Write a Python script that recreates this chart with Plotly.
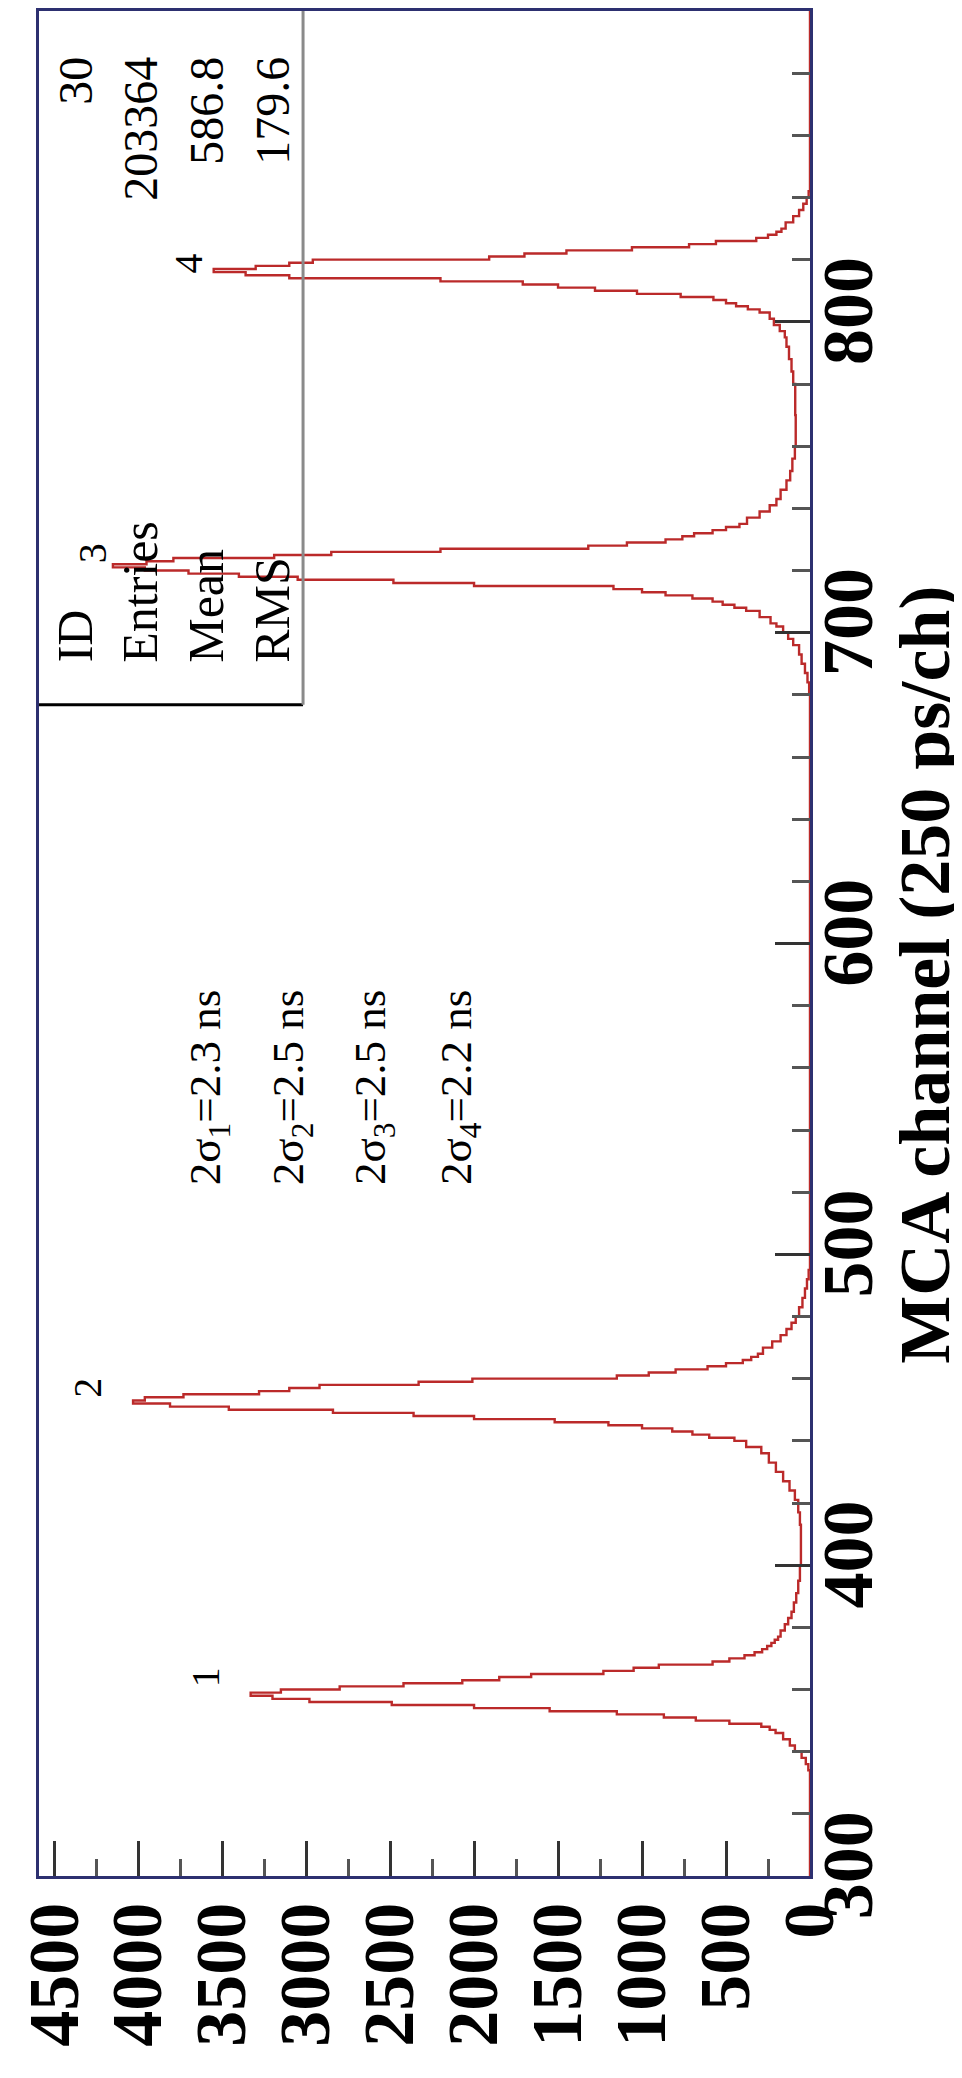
import plotly.graph_objects as go

# ---- data (histogram: bin lower edge in MCA channel, counts) ----
bin_edges = [300, 334, 336, 338, 340, 342, 344, 346, 347, 348, 349, 350, 351, 352, 353, 354,
             355, 356, 357, 358, 359, 360, 361, 362, 363, 364, 365, 366, 367, 368, 369, 370,
             371, 372, 373, 374, 375, 376, 377, 379, 381, 383, 385, 388, 391, 395, 400, 408,
             413, 417, 421, 424, 427, 430, 433, 436, 438, 440, 441, 442, 443, 444, 445, 446,
             447, 448, 449, 450, 451, 452, 453, 454, 455, 456, 457, 458, 459, 460, 461, 462,
             463, 464, 465, 466, 467, 468, 470, 472, 474, 476, 478, 480, 483, 486, 489, 492,
             495, 680, 684, 687, 690, 693, 696, 698, 700, 702, 703, 705, 707, 708, 709, 710,
             711, 712, 713, 714, 715, 716, 717, 718, 719, 720, 721, 722, 723, 724, 725, 726,
             727, 728, 729, 730, 731, 732, 733, 734, 735, 737, 739, 741, 743, 746, 749, 752,
             756, 760, 770, 780, 784, 788, 792, 795, 797, 799, 801, 803, 804, 805, 806, 807,
             808, 809, 810, 811, 812, 813, 814, 815, 816, 817, 818, 819, 820, 821, 822, 823,
             824, 825, 826, 827, 828, 829, 830, 832, 834, 836, 838, 840, 842, 900]
bin_counts = [0, 10, 25, 50, 90, 120, 160, 205, 240, 290, 480, 680, 870, 1150, 1550, 2000,
              2490, 2980, 3200, 3330, 3150, 2800, 2420, 2070, 1850, 1660, 1230, 1050, 900, 580, 480, 390,
              330, 285, 255, 230, 210, 190, 175, 150, 130, 110, 96, 82, 70, 60, 54, 54,
              60, 70, 90, 122, 160, 203, 245, 290, 380, 450, 600, 700, 820, 1000, 1200, 1520,
              2000, 2360, 2840, 3460, 3810, 4030, 3960, 3730, 3280, 3100, 2920, 2330, 2010, 1150, 960, 800,
              610, 500, 400, 350, 310, 280, 225, 175, 140, 110, 85, 65, 45, 30, 18, 8,
              0, 5, 15, 30, 50, 65, 100, 130, 160, 200, 235, 300, 380, 450, 520, 580,
              700, 860, 1000, 1170, 2000, 2480, 3050, 3400, 3700, 3960, 4150, 3950, 3790, 3190, 2850, 2200,
              1320, 1090, 860, 760, 690, 580, 500, 420, 375, 300, 240, 200, 175, 140, 118, 105,
              90, 85, 88, 100, 110, 125, 140, 150, 180, 215, 240, 300, 370, 440, 500, 575,
              770, 1030, 1280, 1500, 1710, 2200, 3100, 3360, 3550, 3300, 3100, 2960, 1910, 1700, 1450, 1060,
              720, 560, 320, 250, 200, 170, 145, 100, 65, 40, 20, 8, 0, 0]

peak_labels = ["1", "2", "3", "4"]
peak_label_counts = [3600, 4300, 4270, 3700]
peak_label_channels = [364, 457, 725.5, 818.6]

sigma_texts = ["2σ<sub>1</sub>=2.3 ns", "2σ<sub>2</sub>=2.5 ns",
               "2σ<sub>3</sub>=2.5 ns", "2σ<sub>4</sub>=2.2 ns"]
sigma_counts = [3583, 3089, 2601, 2089]

stat_names = ["ID", "Entries", "Mean", "RMS"]
stat_values = ["30", "203364", "586.8", "179.6"]
stat_counts = [4375, 3988, 3595, 3202]

count_range = [4590, 0]
channel_range = [300, 900]

RED = "#bb2a2a"
NAVY = "#2d3070"
SERIF = "Liberation Serif"

fig = go.Figure()
fig.add_trace(go.Scatter(
    x=bin_counts, y=bin_edges, mode="lines",
    line=dict(color=RED, width=2.4, shape="vh"),
    showlegend=False, hoverinfo="skip"))

annotations = []
for t, xc, yc in zip(peak_labels, peak_label_counts, peak_label_channels):
    annotations.append(dict(x=xc, y=yc, xref="x", yref="y", text=t, showarrow=False,
                            textangle=-90, font=dict(family=SERIF, size=40, color="black"),
                            xanchor="center", yanchor="middle"))
for t, xc in zip(sigma_texts, sigma_counts):
    annotations.append(dict(x=xc, y=521.5, xref="x", yref="y", text=t, showarrow=False,
                            textangle=-90, font=dict(family=SERIF, size=45, color="black"),
                            xanchor="center", yanchor="bottom"))
for name, val, xc in zip(stat_names, stat_values, stat_counts):
    annotations.append(dict(x=xc, y=689.7, xref="x", yref="y", text=name, showarrow=False,
                            textangle=-90, font=dict(family=SERIF, size=50, color="black"),
                            xanchor="center", yanchor="bottom"))
    annotations.append(dict(x=xc, y=886.0, xref="x", yref="y", text=val, showarrow=False,
                            textangle=-90, font=dict(family=SERIF, size=48, color="black"),
                            xanchor="center", yanchor="top"))
annotations.append(dict(x=1.148, y=590, xref="paper", yref="y",
                        text="MCA channel (250 ps/ch)", showarrow=False, textangle=-90,
                        font=dict(family=SERIF, size=72, color="black", weight="bold"),
                        xanchor="center", yanchor="middle"))

shapes = [
    dict(type="line", xref="x", yref="y", x0=4590, x1=3018, y0=676.8, y1=676.8,
         line=dict(color="black", width=3)),
    dict(type="line", xref="x", yref="y", x0=3018, x1=3018, y0=676.8, y1=900,
         line=dict(color="#8a8a8a", width=3)),
]

fig.update_layout(
    width=962, height=2078,
    margin=dict(l=31, r=160, t=0, b=210, pad=0),
    paper_bgcolor="white", plot_bgcolor="white",
    annotations=annotations, shapes=shapes,
    xaxis=dict(range=count_range, side="bottom", showgrid=False, zeroline=False,
               showline=True, linecolor=NAVY, linewidth=3, mirror=True,
               ticks="inside", ticklen=35, tickwidth=3, tickcolor="#333333",
               tick0=0, dtick=500, tickangle=-90, ticklabelstandoff=-5,
               tickfont=dict(family=SERIF, size=72, color="black", weight="bold"),
               minor=dict(ticks="inside", ticklen=17, tickwidth=3, tickcolor="#555555", dtick=250)),
    yaxis=dict(range=channel_range, side="right", showgrid=False, zeroline=False,
               showline=True, linecolor=NAVY, linewidth=3, mirror=True,
               ticks="inside", ticklen=35, tickwidth=3, tickcolor="#333333",
               tick0=300, dtick=100, tickangle=-90, ticklabelstandoff=-27,
               tickfont=dict(family=SERIF, size=72, color="black", weight="bold"),
               minor=dict(ticks="inside", ticklen=18, tickwidth=3, tickcolor="#555555", dtick=20)),
)

fig.write_html("out.html")
